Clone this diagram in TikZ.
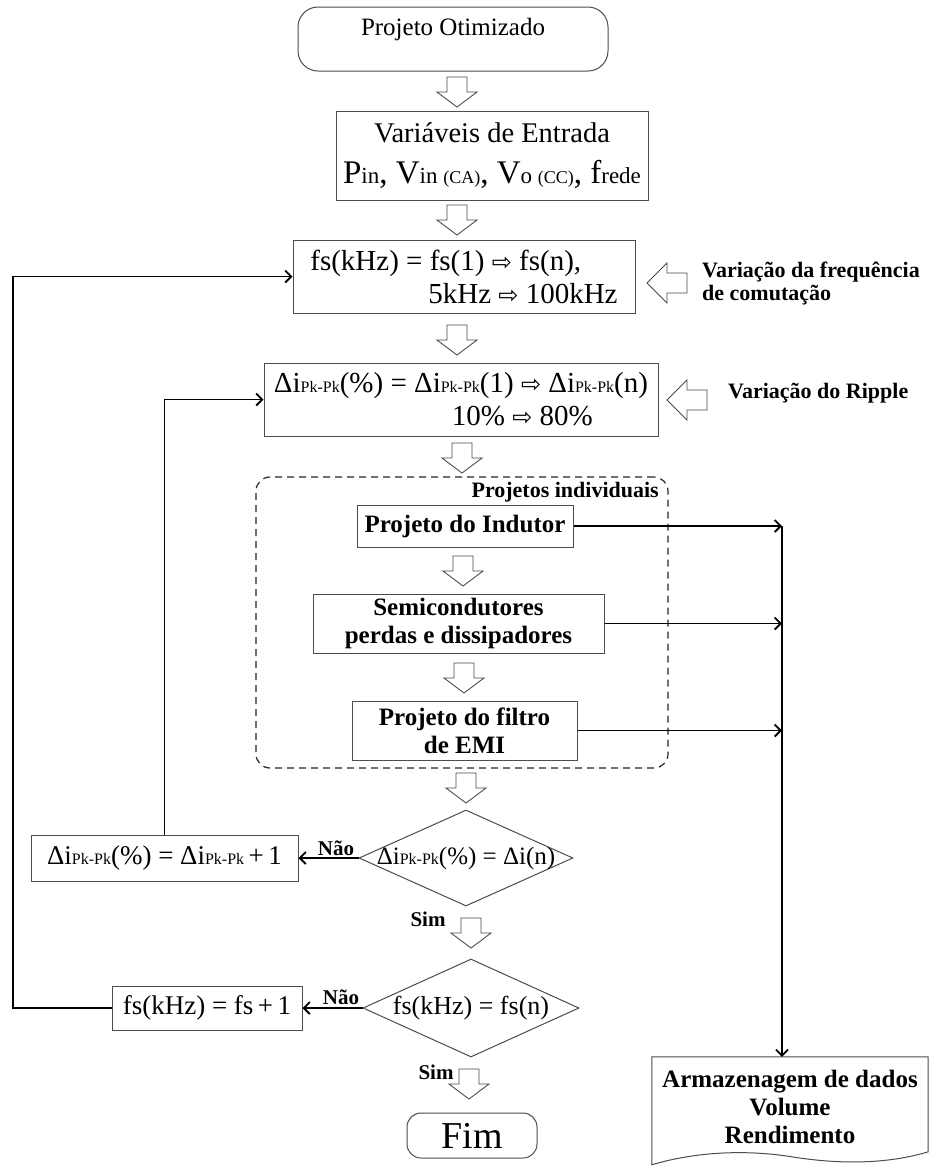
\documentclass[tikz,border=0pt]{standalone}
\usepackage{fontspec}
\setmainfont{Liberation Serif}
\newfontfamily\symf{DejaVu Sans}
\usetikzlibrary{shapes.geometric,arrows.meta,calc}
\newcommand{\fsz}[2]{{\fontsize{#1}{#1}\selectfont #2}}
\newcommand{\rarr}{{\symf\fontsize{24}{24}\selectfont ⇨}}
\newcommand{\dpk}{Δi\fsz{16}{Pk-Pk}}
\begin{document}
\begin{tikzpicture}[x=1pt,y=-1pt,
  box/.style={draw=black!70, line width=1pt, inner sep=0pt, align=center},
  conn/.style={line width=1.8pt, -{Straight Barb[length=6pt,width=12pt]}},
  hol/.style={draw=black!70, line width=0.9pt, fill=white},
  lbl/.style={font=\bfseries\fontsize{22}{23}\selectfont, inner sep=0pt, align=left},
  yn/.style={font=\bfseries\fontsize{21}{21}\selectfont, inner sep=0pt},
  bld/.style={font=\bfseries\fontsize{25}{28}\selectfont},
  eqn/.style={font=\fontsize{29}{33}\selectfont},
  dia/.style={diamond, draw=black!70, line width=1pt, inner sep=0pt, aspect=1},
  hdown/.pic={\draw[hol] (-10,0)--(10,0)--(10,15)--(20,15)--(0,30)--(-20,15)--(-10,15)--cycle;},
  hleft/.pic={\draw[hol] (0,0)--(20,-20)--(20,-10)--(40,-10)--(40,10)--(20,10)--(20,20)--cycle;}
]
\fill[white] (0,0) rectangle (930,1168);
\useasboundingbox (0,0) rectangle (930,1168);

% main column
\node[box, rounded corners=20, minimum width=310, minimum height=64, text depth=24pt,
      font=\fontsize{25}{25}\selectfont] (start) at (453,39) {Projeto Otimizado};
\node[box, minimum width=312, minimum height=89, font=\fontsize{28.5}{40}\selectfont] (inp) at (492,155.5)
  {Variáveis de Entrada\\[1pt]{\fontsize{33}{33}\selectfont P\fsz{23}{in}, V\fsz{23}{in \fsz{18}{(CA)}}, V\fsz{23}{o \fsz{18}{(CC)}}, f\fsz{23}{rede}}};
\node[box, eqn, align=left, minimum width=342, minimum height=73] (fs) at (464,276.5)
  {fs(kHz) = fs(1) \rarr\ fs(n),\\\hspace*{118pt}5kHz \rarr\ 100kHz};
\node[box, eqn, align=left, minimum width=394, minimum height=73] (rip) at (461,399.5)
  {\dpk(\%) = \dpk(1) \rarr\ \dpk(n)\\\hspace*{178pt}10\% \rarr\ 80\%};

\node[draw=black!85, line width=1.2pt, dashed, dash pattern=on 7pt off 5pt, rounded corners=14,
      minimum width=412, minimum height=291, inner sep=0pt] (grp) at (462,622.5) {};
\node[yn, font=\bfseries\fontsize{22}{22}\selectfont, anchor=base east] (grpl) at (659,497) {Projetos individuais};

\node[box, bld, minimum width=216, minimum height=42] (ind) at (465,526) {Projeto do Indutor};
\node[box, bld, minimum width=291, minimum height=59] (semi) at (458.5,623.5) {Semicondutores\\perdas e dissipadores};
\node[box, bld, minimum width=225, minimum height=59] (filt) at (464.5,730.5) {Projeto do filtro\\de EMI};

\node[dia, minimum width=214, minimum height=96, font=\fontsize{25}{25}\selectfont] (d1) at (466,858)
  {\makebox[0pt]{\dpk(\%) = Δi(n)}};
\node[box, minimum width=267, minimum height=46, font=\fontsize{27}{27}\selectfont] (lb1) at (164.5,858)
  {\dpk(\%) = \dpk\,+\,1};
\node[dia, minimum width=216, minimum height=98, font=\fontsize{26}{26}\selectfont] (d2) at (471,1008)
  {\makebox[0pt]{fs(kHz) = fs(n)}};
\node[box, minimum width=190, minimum height=44, font=\fontsize{27}{27}\selectfont] (lb2) at (207,1008)
  {fs(kHz) = fs\,+\,1};
\node[box, rounded corners=14, minimum width=130, minimum height=45, font=\fontsize{38}{38}\selectfont] (fim) at (472,1135.5) {Fim};

% side labels
\pic at (647,283) {hleft};
\node[lbl, anchor=west] (lfs) at (702,283.5) {Variação da frequência\\de comutação};
\pic at (667,400) {hleft};
\node[lbl, anchor=west] (lrip) at (728,393) {Variação do Ripple};

% storage document
\node[bld, inner sep=0pt, minimum width=276, minimum height=100, align=center] (doc) at (790,1107)
  {Armazenagem de dados\\Volume\\Rendimento};
\draw[box] (doc.north west) -- (doc.north east) -- ($(doc.north east)+(0,95)$)
  .. controls +(-40,12) and +(50,8) .. ($(doc.north west)+(140,100)$)
  .. controls +(-50,-8) and +(40,-12) .. ($(doc.north west)+(0,108)$) -- cycle;

% hollow flow arrows
\pic at (457,77) {hdown};
\pic at (457,205) {hdown};
\pic at (457,325) {hdown};
\pic at (462,443) {hdown};
\pic at (463,556) {hdown};
\pic at (464,663) {hdown};
\pic at (466,773) {hdown};
\pic at (471,918) {hdown};
\pic at (469,1069) {hdown};

% yes/no labels
\node[yn, anchor=base] (n1) at (336,855) {Não};
\node[yn, anchor=base] (n2) at (341,1004) {Não};
\node[yn, anchor=base] (s1) at (428,926) {Sim};
\node[yn, anchor=base] (s2) at (436,1079) {Sim};

% connectors
\coordinate (lft) at (13,0);
\coordinate (col) at (782,0);
\draw[conn] (d1.west) -- (lb1.east);
\draw[conn] (d2.west) -- (lb2.east);
\draw[conn] (lb1.north) |- (rip.west);
\draw[conn] (lb2.west) -- (lb2.west -| lft) |- (fs.west);
\draw[conn] (ind.east) -- (ind.east -| col);
\draw[conn] (semi.east) -- (semi.east -| col);
\draw[conn] (filt.east) -- (filt.east -| col);
\draw[conn] (ind.east -| col) -- (col |- doc.north);
\end{tikzpicture}
\end{document}
